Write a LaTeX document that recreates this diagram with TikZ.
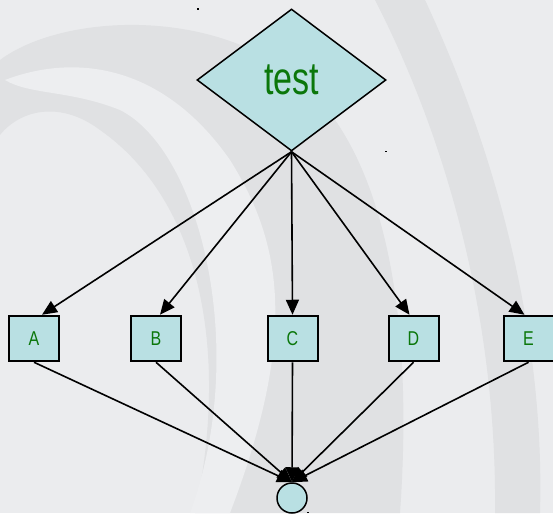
\documentclass[tikz,border=0pt]{standalone}
\usepackage{fontspec}
\setmainfont{Liberation Sans}
\usetikzlibrary{shapes.geometric,arrows.meta}
\definecolor{bgbase}{HTML}{EBECEE}
\definecolor{bgdark}{HTML}{E0E1E3}
\definecolor{bglite}{HTML}{EDEEF0}
\definecolor{nodefill}{HTML}{B9E0E3}
\definecolor{labelgreen}{HTML}{0B770B}
\tikzset{
  box/.style={draw=black, line width=2pt, fill=nodefill, minimum width=50pt,
    minimum height=45.5pt, inner sep=0pt, text=labelgreen,
    font=\fontsize{20}{20}\selectfont},
  decision/.style={diamond, draw=black, line width=1.5pt, fill=nodefill,
    minimum width=189pt, minimum height=142pt, inner sep=0pt, text=labelgreen,
    font=\fontsize{46}{46}\selectfont},
  sink/.style={circle, draw=black, line width=1.5pt, fill=nodefill,
    minimum size=30pt, inner sep=0pt},
  edge/.style={line width=1.6pt, -{Triangle[length=15pt,width=13pt]}},
  speck/.style={fill=black}
}
\begin{document}
\begin{tikzpicture}[x=1pt,y=-1pt]
  % canvas and soft watermark swirl
  \fill[bgbase] (0,0) rectangle (553,513);
  \useasboundingbox (0,0) rectangle (553,513);
  \fill[bgdark] (0,60) .. controls (60,15) and (210,5) .. (300,80)
     .. controls (380,150) and (415,300) .. (400,513) -- (195,513)
     .. controls (230,350) and (200,200) .. (100,130)
     .. controls (60,100) and (20,110) .. (0,135) -- cycle;
  \fill[bglite] (5,80) .. controls (70,55) and (160,60) .. (230,160)
     .. controls (280,240) and (300,330) .. (230,513) -- (190,513)
     .. controls (250,350) and (200,150) .. (120,110)
     .. controls (70,90) and (30,95) .. (5,80) -- cycle;
  \fill[bgdark] (375,0) -- (425,0) .. controls (495,150) and (545,330) .. (540,513)
     -- (495,513) .. controls (497,330) and (452,150) .. (375,0) -- cycle;

  % graph
  \node[decision] (t) at (291.5,80) {\raisebox{-3pt}{\scalebox{0.74}[1]{test}}};
  \node[box] (a) at (34,338.5) {\scalebox{0.8}[1]{A}};
  \node[box] (b) at (156,338.5) {\scalebox{0.8}[1]{B}};
  \node[box] (c) at (292.5,338.5) {\scalebox{0.8}[1]{C}};
  \node[box] (d) at (413.5,338.5) {\scalebox{0.8}[1]{D}};
  \node[box] (e) at (528.5,338.5) {\scalebox{0.8}[1]{E}};
  \node[sink] (k) at (292,498) {};

  \draw[edge] (t.south) -- ([xshift=8pt]a.north);
  \draw[edge] (t.south) -- ([xshift=4pt]b.north);
  \draw[edge] (t.south) -- (c.north);
  \draw[edge] (t.south) -- ([xshift=-4pt]d.north);
  \draw[edge] (t.south) -- ([xshift=-4pt]e.north);

  \foreach \n in {a,b,c,d,e}
    \draw[edge] (\n.south) -- (k.north);

  % stray specks at the corners of the layout boxes
  \fill[speck] (196.5,8.5) rectangle (198.5,10);
  \fill[speck] (385,150.5) rectangle (387,152);
  \fill[speck] (307,511.5) rectangle (309,513);
\end{tikzpicture}
\end{document}
